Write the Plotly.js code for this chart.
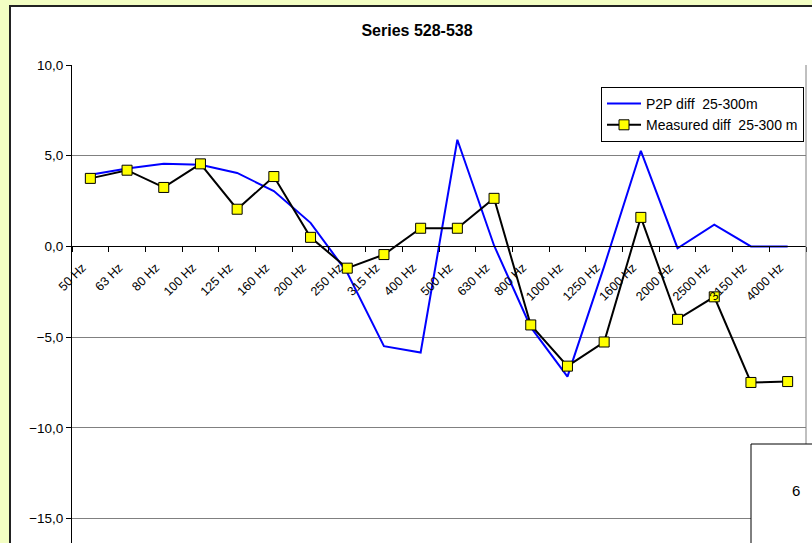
<!DOCTYPE html>
<html>
<head>
<meta charset="utf-8">
<script src="https://cdn.plot.ly/plotly-3.0.1.min.js"></script>
<style>
  html, body { margin: 0; padding: 0; width: 812px; height: 543px; overflow: hidden; background: #F3FEC3; }
  #box { position: absolute; left: 9px; top: 5px; width: 900px; height: 700px; background: #ffffff;
         border-left: 2px solid #222; border-top: 2px solid #222; }
  #chart { position: absolute; left: 0; top: 0; width: 812px; height: 543px; }
</style>
</head>
<body>
<div id="box"></div>
<div id="chart"></div>
<script>
const categories = ["50 Hz","63 Hz","80 Hz","100 Hz","125 Hz","160 Hz","200 Hz","250 Hz","315 Hz","400 Hz",
                    "500 Hz","630 Hz","800 Hz","1000 Hz","1250 Hz","1600 Hz","2000 Hz","2500 Hz","3150 Hz","4000 Hz"];
const p2pDiff = [3.95, 4.3, 4.55, 4.5, 4.05, 3.05, 1.3, -1.45, -5.5, -5.85,
                 5.88, 0.05, -4.45, -7.18, -1.1, 5.27, -0.1, 1.2, 0.0, 0.0];
const measuredDiff = [3.75, 4.2, 3.25, 4.55, 2.05, 3.85, 0.5, -1.2, -0.45, 1.0,
                      1.0, 2.65, -4.33, -6.6, -5.27, 1.6, -4.02, -2.78, -7.5, -7.45];
const yTicks = [10, 5, 0, -5, -10, -15];
const seriesNames = ["P2P diff  25-300m", "Measured diff  25-300 m"];
const titleText = "Series 528-538";
const boxLabel = "6";

const FONT = "Liberation Sans, Arial, sans-serif";

const traces = [
  { x: categories, y: p2pDiff, name: seriesNames[0], type: "scatter", mode: "lines",
    line: { color: "#0000FF", width: 2 } },
  { x: categories, y: measuredDiff, name: seriesNames[1], type: "scatter", mode: "lines+markers",
    line: { color: "#000000", width: 2 },
    marker: { symbol: "square", size: 10, color: "#FFFF00", line: { color: "#000000", width: 1 } } }
];

const yMin = -16.35, yMax = 10;
const zeroPos = (0 - yMin) / (yMax - yMin);

const layout = {
  width: 812, height: 543,
  margin: { l: 72, r: 6, t: 65, b: 0, pad: 0 },
  paper_bgcolor: "rgba(0,0,0,0)",
  plot_bgcolor: "rgba(0,0,0,0)",
  font: { family: FONT, size: 12, color: "#000" },
  separators: ", ",
  showlegend: true,
  title: { text: "<b>" + titleText + "</b>", x: 417/812, xref: "container", xanchor: "center",
           y: 1 - 30/543, yref: "container", yanchor: "middle",
           font: { family: FONT, size: 16, color: "#000" } },
  xaxis: {
    type: "category", anchor: "free", position: zeroPos,
    range: [-0.5, categories.length - 0.5],
    showline: true, linecolor: "#000", linewidth: 1,
    ticks: "outside", ticklen: 5, tickcolor: "#000", tickson: "boundaries",
    tickangle: -45, showgrid: false, zeroline: false, automargin: false,
    ticklabelstandoff: 8, ticklabelshift: -8,
    tickfont: { family: FONT, size: 12.5, color: "#000" }
  },
  yaxis: {
    range: [yMin, yMax], tickvals: yTicks, tickformat: ".1f",
    showline: true, linecolor: "#000", linewidth: 1,
    ticks: "outside", ticklen: 5, tickcolor: "#000",
    showgrid: true, gridcolor: "#808080", gridwidth: 1,
    zeroline: false, automargin: false,
    tickfont: { family: FONT, size: 13.5, color: "#000" }
  },
  legend: {
    x: (601-72)/734, xanchor: "left", y: (543-87)/478, yanchor: "top",
    bgcolor: "#fff", bordercolor: "#000", borderwidth: 1,
    font: { family: FONT, size: 14, color: "#000" },
    itemwidth: 34,
    tracegroupgap: 0
  },
  shapes: [
    { type: "line", xref: "paper", yref: "paper", x0: 1, x1: 1, y0: 0, y1: 1,
      line: { color: "#808080", width: 1 } },
    { type: "rect", xref: "paper", yref: "paper", x0: (751-72)/734, x1: 1.2, y0: -0.2, y1: (543-444)/478,
      fillcolor: "#fff", line: { color: "#000", width: 1 }, layer: "above" }
  ],
  annotations: [
    { text: boxLabel, xref: "paper", yref: "paper", x: (802-72)/734, y: (543-501)/478,
      showarrow: false, font: { family: FONT, size: 15, color: "#000" } }
  ]
};

Plotly.newPlot("chart", traces, layout, { displayModeBar: false, staticPlot: true });
</script>
</body>
</html>
